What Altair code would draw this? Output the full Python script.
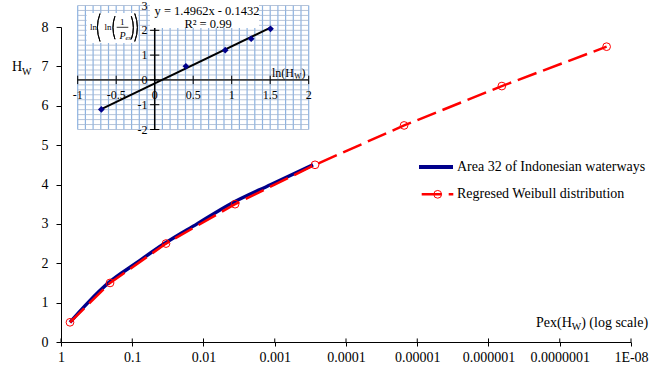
import altair as alt
import numpy as np
import pandas as pd

FONT = "Liberation Serif"
NAVY = "#00008B"
RED = "#FF0000"

# ---------------- data ----------------
weibull_hw = [0.5, 1.5, 2.5, 3.5, 4.5, 5.5, 6.5, 7.5]
weibull_pex = [0.748, 0.205, 0.0336, 0.00361, 2.72e-4, 1.53e-5, 6.5e-7, 2.2e-8]
area_hw = [0.5, 1.0, 1.5, 2.0, 2.5, 3.0, 3.5, 4.0, 4.5]
area_pex = [0.748, 0.418, 0.216, 0.0886, 0.0353, 0.0123, 0.00425, 0.00113, 2.9e-4]

x_tick_values = [1, 0.1, 0.01, 0.001, 1e-4, 1e-5, 1e-6, 1e-7, 1e-8]
x_tick_labels = ["1", "0.1", "0.01", "0.001", "0.0001", "0.00001",
                 "0.000001", "0.0000001", "1E-08"]
y_tick_values = [0, 1, 2, 3, 4, 5, 6, 7, 8]

inset_ln_hw = [-0.693, 0.405, 0.916, 1.253, 1.504]
inset_lnln = [-1.19, 0.55, 1.20, 1.66, 2.06]
trend_x = [-0.693, 1.504]
trend_y = [-1.18, 2.107]
inset_x_ticks = [-1, -0.5, 0, 0.5, 1, 1.5, 2]
inset_x_labels = ["-1", "-0.5", "0", "0.5", "1", "1.5", "2"]
inset_y_ticks = [-2, -1, 0, 1, 2, 3]
inset_y_labels = ["-2", "-1", "0", "1", "2", "3"]
equation_text = "y = 1.4962x - 0.1432"
r2_text = "R\u00b2 = 0.99"
series_names = ["Area 32 of Indonesian waterways", "Regresed Weibull distribution"]

# ---------------- layout ----------------
W, H = 570, 315
PAD = {"left": 61, "top": 27, "right": 25, "bottom": 25}

# inset placement (plot-area pixels) -> independent linear scales
ix_lo_px, ix_hi_px = 16.7, 247.7      # x = -1 and x = 2
iy_hi_px, iy_lo_px = -21.5, 102.5     # y = 3 and y = -2
ux = 3 / (ix_hi_px - ix_lo_px)
uy = 5 / (iy_lo_px - iy_hi_px)
ix_min = -1 - ix_lo_px * ux
ix_max = ix_min + W * ux
iy_max = 3 - (0 - iy_hi_px) * uy
iy_min = iy_max - H * uy

IXS = alt.Scale(domain=[ix_min, ix_max], nice=False, zero=False)
IYS = alt.Scale(domain=[iy_min, iy_max], nice=False, zero=False)

# ---------------- main scales/axes ----------------
XS = alt.Scale(type="log", domain=[1e-8, 1], reverse=True, nice=False)
YS = alt.Scale(domain=[0, 8], nice=False, zero=True)

parts = []
for v, lab in zip(x_tick_values[:-1], x_tick_labels[:-1]):
    parts.append(f"datum.value > {v / 3.1623:.14f} ? '{lab}' : ")
x_label_expr = "".join(parts) + f"'{x_tick_labels[-1]}'"

XAX = alt.Axis(values=x_tick_values, labelExpr=x_label_expr, title=None, grid=False,
               labelFont=FONT, labelFontSize=14, labelColor="black",
               tickSize=4, tickColor="black", domainColor="black",
               labelPadding=4, labelOverlap=False, labelFlush=False, labelBound=False)
YAX = alt.Axis(values=y_tick_values, title=None, grid=False,
               labelFont=FONT, labelFontSize=14, labelColor="black",
               tickSize=5, tickColor="black", domainColor="black", labelPadding=8)


def mx(field="P"):
    return alt.X(f"{field}:Q", scale=XS, axis=XAX)


def my(field="H"):
    return alt.Y(f"{field}:Q", scale=YS, axis=YAX)


area_df = pd.DataFrame({"P": area_pex, "H": area_hw})
weib_df = pd.DataFrame({"P": weibull_pex, "H": weibull_hw})

blue_line = alt.Chart(area_df).mark_line(
    color=NAVY, strokeWidth=3.5, interpolate="monotone"
).encode(x=mx(), y=my(), order=alt.Order("H:Q"))

red_line = alt.Chart(weib_df).mark_line(
    color=RED, strokeWidth=2.5, strokeDash=[20, 7]
).encode(x=mx(), y=my(), order=alt.Order("H:Q"))

red_pts = alt.Chart(weib_df).mark_point(
    shape="circle", filled=False, color=RED, size=60, strokeWidth=1, opacity=1
).encode(x=mx(), y=my())

xtick_up = alt.Chart(pd.DataFrame({"P": x_tick_values, "H": [0] * 9, "H2": [0.09] * 9})).mark_rule(
    color="black", strokeWidth=1
).encode(x=mx(), y=my(), y2="H2:Q")

main = alt.layer(blue_line, red_line, red_pts, xtick_up)

# ---------------- inset ----------------
def ixe(f):
    return alt.X(f"{f}:Q", scale=IXS, axis=None)


def iye(f):
    return alt.Y(f"{f}:Q", scale=IYS, axis=None)


bg = alt.Chart(pd.DataFrame({"a": [-1.0], "b": [2.0], "c": [-2.0], "d": [3.0]})).mark_rect(
    fill="white", stroke=None
).encode(x=ixe("a"), x2="b:Q", y=iye("c"), y2="d:Q")

vx = np.round(np.arange(-1, 2.0001, 0.1), 3)
vgrid = alt.Chart(pd.DataFrame({"gx": vx, "y0": -2.0, "y1": 3.0})).mark_rule(
    color="#8DB3E2", strokeWidth=1.2
).encode(x=ixe("gx"), y=iye("y0"), y2="y1:Q")

hy = np.round(np.arange(-2, 3.0001, 0.2), 3)
hgrid = alt.Chart(pd.DataFrame({"gy": hy, "x0": -1.0, "x1": 2.0})).mark_rule(
    color="#A3B5CF", strokeWidth=0.8
).encode(y=iye("gy"), x=ixe("x0"), x2="x1:Q")

xaxis_line = alt.Chart(pd.DataFrame({"x0": [-1.0], "x1": [2.0], "y0": [0.0]})).mark_rule(
    color="#404040", strokeWidth=1.8
).encode(x=ixe("x0"), x2="x1:Q", y=iye("y0"))

yaxis_line = alt.Chart(pd.DataFrame({"x0": [0.0], "y0": [-2.0], "y1": [3.0]})).mark_rule(
    color="black", strokeWidth=1.5
).encode(x=ixe("x0"), y=iye("y0"), y2="y1:Q")

xticks_in = alt.Chart(pd.DataFrame({"tx": inset_x_ticks, "y0": -0.17, "y1": 0.17})).mark_rule(
    color="black", strokeWidth=1
).encode(x=ixe("tx"), y=iye("y0"), y2="y1:Q")

yticks_in = alt.Chart(pd.DataFrame({"ty": inset_y_ticks, "x0": -0.06, "x1": 0.06})).mark_rule(
    color="black", strokeWidth=1
).encode(y=iye("ty"), x=ixe("x0"), x2="x1:Q")

xlabels_in = alt.Chart(pd.DataFrame({"tx": inset_x_ticks, "ly": -0.61, "t": inset_x_labels})).mark_text(
    font=FONT, fontSize=12, color="black", align="center", baseline="middle"
).encode(x=ixe("tx"), y=iye("ly"), text="t:N")

ylabels_in = alt.Chart(pd.DataFrame({"ty": inset_y_ticks, "lx": -0.095, "t": inset_y_labels})).mark_text(
    font=FONT, fontSize=12, color="black", align="right", baseline="middle"
).encode(y=iye("ty"), x=ixe("lx"), text="t:N")

trend = alt.Chart(pd.DataFrame({"lx": trend_x, "ly": trend_y})).mark_line(
    color="black", strokeWidth=2
).encode(x=ixe("lx"), y=iye("ly"))

ipts = alt.Chart(pd.DataFrame({"lx": inset_ln_hw, "ly": inset_lnln})).mark_point(
    shape="diamond", filled=True, color=NAVY, size=45, opacity=1
).encode(x=ixe("lx"), y=iye("ly"))

eq_box = alt.Chart(pd.DataFrame({"a": [-0.061], "b": [1.355], "c": [2.09], "d": [3.10]})).mark_rect(
    fill="white"
).encode(x=ixe("a"), x2="b:Q", y=iye("c"), y2="d:Q")

fm_box = alt.Chart(pd.DataFrame({"a": [-0.883], "b": [-0.213], "c": [1.49], "d": [2.70]})).mark_rect(
    fill="white"
).encode(x=ixe("a"), x2="b:Q", y=iye("c"), y2="d:Q")

inset = alt.layer(bg, vgrid, hgrid, xaxis_line, yaxis_line, xticks_in, yticks_in,
                  xlabels_in, ylabels_in, trend, ipts, eq_box, fm_box)


# ---------------- annotations (pixel placed, plot-area coordinates) ----------------
def label(text, px, py, size=14, align="left", italic=False):
    return alt.Chart(pd.DataFrame({"t": [text]})).mark_text(
        font=FONT, fontSize=size, align=align, baseline="middle", color="black",
        fontStyle="italic" if italic else "normal"
    ).encode(x=alt.value(px), y=alt.value(py), text="t:N")


def seg(x0, x1, y, color, width, dash=None):
    kw = dict(color=color, strokeWidth=width)
    if dash:
        kw["strokeDash"] = dash
    return alt.Chart(pd.DataFrame({"k": [0]})).mark_rule(**kw).encode(
        x=alt.value(x0), x2=alt.value(x1), y=alt.value(y))


def paren(cx, cy, r, half, left=True):
    mid = 3 * np.pi / 2 if left else np.pi / 2
    return alt.Chart(pd.DataFrame({"k": [0]})).mark_arc(
        filled=False, stroke="black", strokeWidth=1
    ).encode(x=alt.value(cx), y=alt.value(cy), theta=alt.value(mid - half),
             theta2=alt.value(mid + half), radius=alt.value(r), radius2=alt.value(r))


annos = [
    # y title  H_W
    label("H", -49, 40, 14),
    label("W", -38.9, 45, 10),
    # x title  Pex(H_W) (log scale)
    label("Pex(H", 475, 296, 14),
    label("W", 510.8, 300, 10),
    label(") (log scale)", 520.2, 296, 14),
    # legend
    seg(358, 392, 140, NAVY, 4),
    label(series_names[0], 396, 140, 14),
    seg(360.7, 392.3, 167.3, RED, 2.5, [20, 7]),
    alt.Chart(pd.DataFrame({"k": [0]})).mark_point(
        shape="circle", filled=False, color=RED, size=60, strokeWidth=1, opacity=1
    ).encode(x=alt.value(376.7), y=alt.value(167.3)),
    label(series_names[1], 396, 167.3, 14),
    # inset equation
    label(equation_text, 146, -16.3, 12.5, align="center"),
    label(r2_text, 147, -3.5, 12.5, align="center"),
    # inset x title ln(H_W)
    label("ln(H", 233, 46, 12, align="right"),
    label("W", 233.3, 49.5, 7.5),
    label(")", 240.5, 46, 12),
    # y formula ln(ln(1/Pex))
    label("ln", 32.5, -0.5, 9, align="center"),
    paren(76.5, 0.5, 40, 0.357, left=True),
    label("ln", 47, -0.5, 9, align="center"),
    paren(87, 0.7, 35, 0.335, left=True),
    label("1", 61.2, -5.5, 9, align="center"),
    seg(55.7, 67.3, 0.3, "black", 0.8),
    label("P", 58.5, 9.3, 10, italic=True),
    label("ex", 64.5, 11, 7, italic=True),
    paren(37.3, 0.7, 35, 0.335, left=False),
    paren(36.3, 0.5, 40, 0.357, left=False),
]

chart = alt.layer(main, inset, *annos).resolve_scale(
    x="independent", y="independent"
).properties(
    width=W, height=H,
    padding=PAD,
    autosize=alt.AutoSizeParams(type="none"),
    background="white",
).configure_view(stroke=None)

chart.save("out.html", embed_options={"renderer": "svg", "actions": False})
